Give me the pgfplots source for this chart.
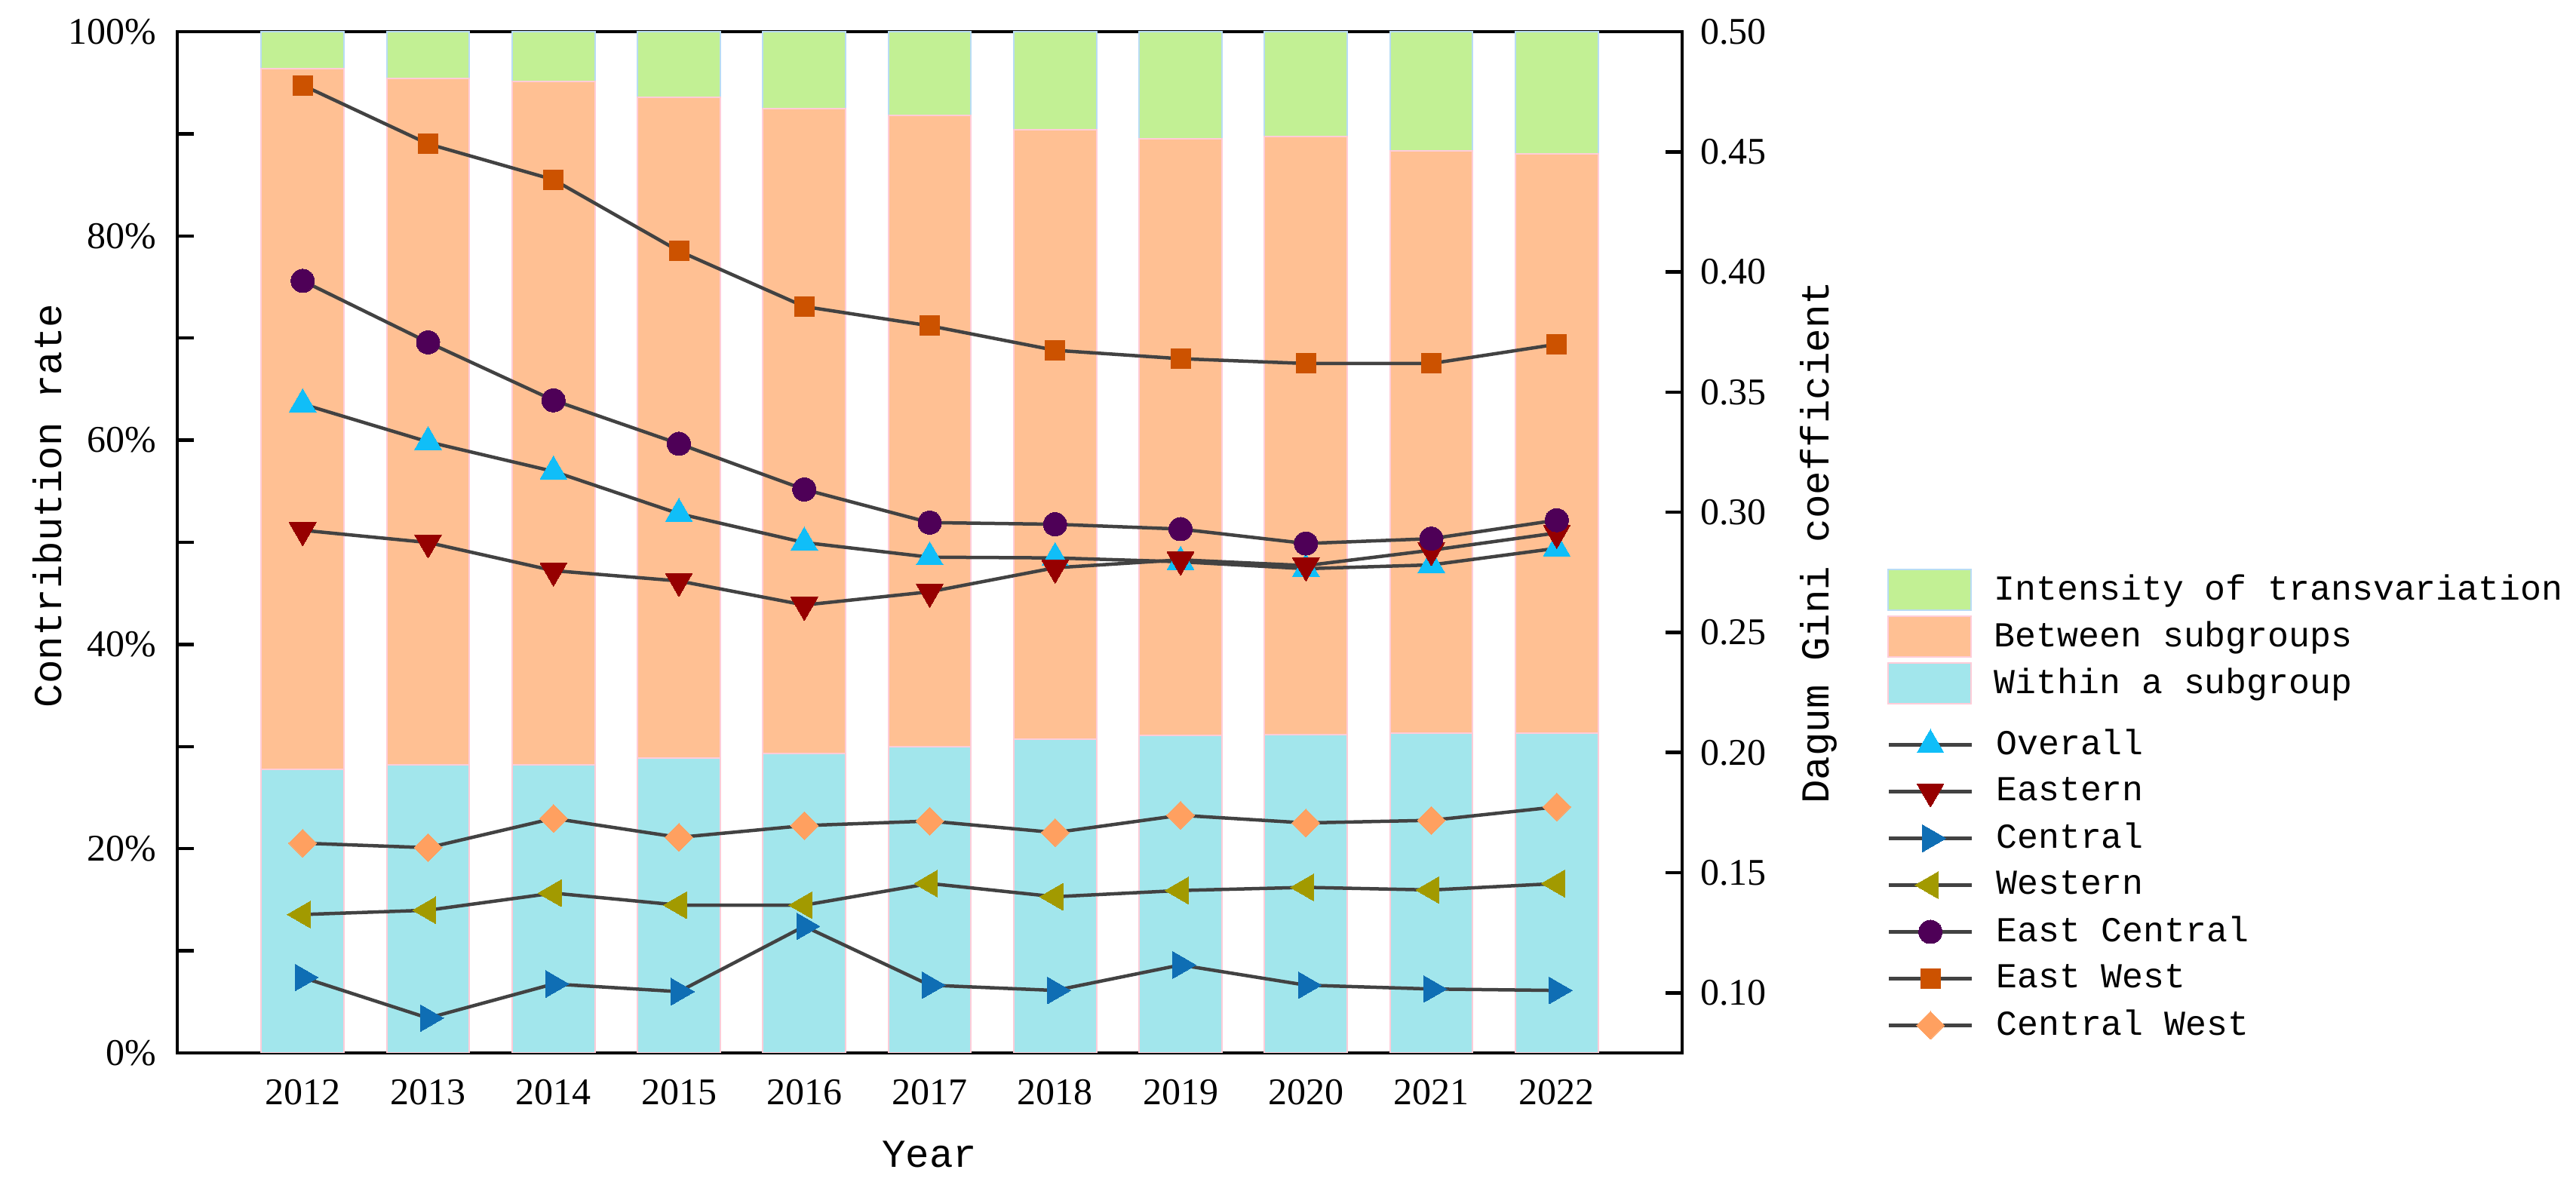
\documentclass[border=0pt]{standalone}
\usepackage{pgfplots}
\pgfplotsset{compat=1.18}
\usepackage{fontspec}
\setmainfont{Liberation Serif}
\newfontfamily\monof{Liberation Mono}
\definecolor{cgreen}{HTML}{C2F094}
\definecolor{corange}{HTML}{FFC093}
\definecolor{ccyan}{HTML}{A2E6EC}
\definecolor{egreen}{HTML}{B8DCF4}
\definecolor{epink}{HTML}{FFCCD8}
\definecolor{lgray}{HTML}{424242}
\definecolor{cOverall}{HTML}{10BEF8}
\definecolor{cEastern}{HTML}{960000}
\definecolor{cCentral}{HTML}{0F6EB4}
\definecolor{cWestern}{HTML}{A29A00}
\definecolor{cEC}{HTML}{4E0057}
\definecolor{cEW}{HTML}{CC5200}
\definecolor{cCW}{HTML}{FFA060}
\pgfplotsset{
  common/.style={
    at={(47pt,38.2pt)}, anchor=south west, scale only axis,
    width=399pt, height=270.8pt, xmin=-1, xmax=11,
    tick align=inside, major tick length=4.4pt, minor tick length=4.4pt,
    every tick/.style={black, line width=0.9pt},
    axis line style={line width=0.9pt},
    tick label style={font=\fontsize{10}{12}\selectfont},
    /pgf/number format/assume math mode=true,
  },
  leg/.style={legend style={draw=none, fill=none, inner sep=0pt, outer sep=0pt,
    column sep=6pt, row sep=0pt, anchor=north west,
    nodes={inner sep=0pt, minimum height=12.4pt, font=\monof\fontsize{9.3}{11}\selectfont}},
    legend cell align=left},
  patchleg/.style={legend image code/.code={\filldraw[##1] (0pt,-5.4pt) rectangle (22pt,5.4pt);}},
  lineleg/.style={legend image code/.code={\draw[mark repeat=2,mark phase=2,##1] plot coordinates {(0pt,0pt) (11pt,0pt) (22pt,0pt)};}},
}
\begin{document}
\begin{tikzpicture}
\path[use as bounding box] (0,0) rectangle (683pt,317.4pt);
\begin{axis}[common, leg,
  ymin=0, ymax=100,
  ybar stacked, bar width=0.66,
  xtick={0,1,2,3,4,5,6,7,8,9,10},
  xticklabels={2012,2013,2014,2015,2016,2017,2018,2019,2020,2021,2022},
  major x tick style={draw=none},
  ytick={0,20,40,60,80,100}, minor ytick={10,30,50,70,90},
  ytick pos=left,
  yticklabel={\pgfmathprintnumber{\tick}\%},
  yticklabel style={inner sep=0pt, xshift=-5.4pt},
  xticklabel style={inner sep=0pt, yshift=-6.8pt},
  xlabel={Year}, ylabel={Contribution rate},
  every axis x label/.style={at={(rel axis cs:0.5,0)}, yshift=-26.8pt, anchor=center, font=\monof\fontsize{10.5}{12}\selectfont},
  every axis y label/.style={at={(rel axis cs:0,0.536)}, xshift=-34.4pt, rotate=90, anchor=center, font=\monof\fontsize{10.5}{12}\selectfont},
  legend style={at={(1.1363,0.4764)}},
  reverse legend,
]
\addplot[fill=ccyan, draw=epink, line width=0.4pt, patchleg] coordinates {
(0,27.8) (1,28.2) (2,28.2) (3,28.9) (4,29.3) (5,30.0) (6,30.7) (7,31.1) (8,31.2) (9,31.3) (10,31.3)};
\addlegendentry{Within a subgroup}
\addplot[fill=corange, draw=epink, line width=0.4pt, patchleg] coordinates {
(0,68.6) (1,67.2) (2,66.9) (3,64.7) (4,63.2) (5,61.8) (6,59.7) (7,58.4) (8,58.5) (9,57.0) (10,56.7)};
\addlegendentry{Between subgroups}
\addplot[fill=cgreen, draw=egreen, line width=0.4pt, patchleg] coordinates {
(0,3.6) (1,4.6) (2,4.9) (3,6.4) (4,7.5) (5,8.2) (6,9.6) (7,10.5) (8,10.3) (9,11.7) (10,12.0)};
\addlegendentry{Intensity of transvariation}
\end{axis}
\begin{axis}[common, leg,
  ymin=0.075, ymax=0.5,
  axis x line=none, axis y line*=right,
  ytick={0.10,0.15,0.20,0.25,0.30,0.35,0.40,0.45,0.50},
  yticklabel style={/pgf/number format/.cd, fixed, fixed zerofill, precision=2, /tikz/.cd, inner sep=0pt, xshift=4.6pt},
  ylabel={Dagum Gini coefficient},
  every axis y label/.style={at={(rel axis cs:1,0.5)}, xshift=36.2pt, rotate=90, anchor=center, font=\monof\fontsize{10.5}{12}\selectfont},
  legend style={at={(1.1363,0.3246)}},
  lineleg,
  every axis plot/.append style={color=lgray, line width=0.9pt},
]
\addplot[mark=triangle*, mark size=4.1pt, mark options={fill=cOverall, draw=cOverall, solid, line width=0pt}] coordinates {
(0,0.3450) (1,0.3293) (2,0.3170) (3,0.2994) (4,0.2874) (5,0.2813) (6,0.2810) (7,0.2794) (8,0.2765) (9,0.2781) (10,0.2850)};
\addlegendentry{Overall}
\addplot[mark=triangle*, mark size=4.1pt, mark options={fill=cEastern, draw=cEastern, solid, line width=0pt, rotate=180}] coordinates {
(0,0.2925) (1,0.2874) (2,0.2757) (3,0.2714) (4,0.2614) (5,0.2669) (6,0.2769) (7,0.2802) (8,0.2778) (9,0.2842) (10,0.2914)};
\addlegendentry{Eastern}
\addplot[mark=triangle*, mark size=4.1pt, mark options={fill=cCentral, draw=cCentral, solid, line width=0pt, rotate=-90}] coordinates {
(0,0.1064) (1,0.0895) (2,0.1037) (3,0.1005) (4,0.1277) (5,0.1032) (6,0.1010) (7,0.1116) (8,0.1032) (9,0.1016) (10,0.1010)};
\addlegendentry{Central}
\addplot[mark=triangle*, mark size=4.1pt, mark options={fill=cWestern, draw=cWestern, solid, line width=0pt, rotate=90}] coordinates {
(0,0.1326) (1,0.1344) (2,0.1415) (3,0.1365) (4,0.1365) (5,0.1455) (6,0.1400) (7,0.1426) (8,0.1439) (9,0.1428) (10,0.1455)};
\addlegendentry{Western}
\addplot[mark=*, mark size=3.1pt, mark options={fill=cEC, draw=cEC, solid, line width=0pt}] coordinates {
(0,0.3963) (1,0.3707) (2,0.3466) (3,0.3285) (4,0.3095) (5,0.2957) (6,0.2950) (7,0.2930) (8,0.2870) (9,0.2890) (10,0.2967)};
\addlegendentry{East Central}
\addplot[mark=square*, mark size=2.6pt, mark options={fill=cEW, draw=cEW, solid, line width=0pt}] coordinates {
(0,0.4777) (1,0.4533) (2,0.4384) (3,0.4087) (4,0.3856) (5,0.3776) (6,0.3674) (7,0.3639) (8,0.3619) (9,0.3619) (10,0.3699)};
\addlegendentry{East West}
\addplot[mark=diamond*, mark size=3.7pt, mark options={fill=cCW, draw=cCW, solid, line width=0pt, xscale=1.333}] coordinates {
(0,0.1623) (1,0.1604) (2,0.1726) (3,0.1647) (4,0.1696) (5,0.1715) (6,0.1667) (7,0.1739) (8,0.1707) (9,0.1718) (10,0.1774)};
\addlegendentry{Central West}
\end{axis}
\end{tikzpicture}
\end{document}
